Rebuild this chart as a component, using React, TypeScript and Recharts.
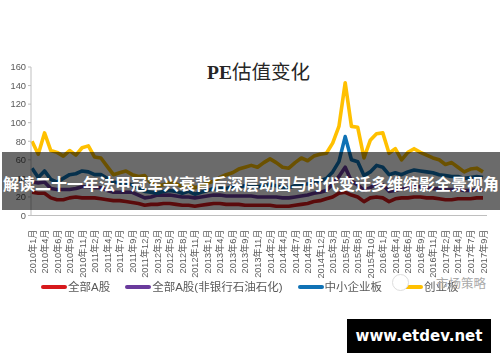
import { LineChart, Line, XAxis, YAxis, Legend } from "recharts";

const TICK_LABELS = [
  "2010年1月", "2010年4月", "2010年6月", "2010年9月", "2010年11月",
  "2011年2月", "2011年4月", "2011年7月", "2011年9月", "2011年12月",
  "2012年3月", "2012年5月", "2012年8月", "2012年11月",
  "2013年1月", "2013年4月", "2013年6月", "2013年9月", "2013年11月",
  "2014年2月", "2014年4月", "2014年7月", "2014年9月", "2014年12月",
  "2015年3月", "2015年5月", "2015年8月", "2015年10月",
  "2016年1月", "2016年4月", "2016年6月", "2016年9月", "2016年11月",
  "2017年2月", "2017年4月", "2017年7月", "2017年9月",
];

// two readings per labelled tick, the one in between has no label
const ALL_A = [
  25, 24, 24, 19, 17, 17, 19, 20, 19, 19, 19, 18, 17, 16, 16, 15, 14, 13, 11, 12, 12, 13, 13, 12, 11,
  11, 10, 11, 12, 13, 13, 12, 12, 12, 11, 11, 11, 11, 11, 10, 10, 10, 11, 12, 13, 15, 16, 18, 20, 24,
  25, 22, 20, 15, 19, 20, 19, 15, 18, 19, 19, 20, 20, 19, 19, 18, 17, 17, 18, 18, 18, 19, 19,
];
const ALL_A_EX = [
  36, 35, 36, 29, 28, 28, 28, 29, 31, 31, 30, 30, 27, 25, 25, 25, 25, 22, 19, 20, 22, 22, 22, 21, 20,
  20, 19, 20, 21, 22, 22, 21, 21, 21, 21, 21, 20, 20, 20, 20, 19, 19, 20, 21, 22, 24, 25, 27, 34, 42,
  52, 37, 33, 27, 30, 34, 33, 26, 27, 29, 30, 31, 31, 30, 29, 29, 28, 28, 28, 27, 27, 28, 27,
];
const SME = [
  51, 41, 48, 39, 36, 40, 44, 45, 48, 47, 44, 44, 40, 36, 35, 35, 33, 29, 26, 25, 24, 26, 27, 26, 24,
  26, 23, 25, 27, 29, 29, 29, 31, 31, 32, 31, 31, 32, 33, 32, 30, 30, 32, 34, 34, 36, 37, 40, 47, 58,
  85, 60, 58, 43, 47, 54, 52, 44, 46, 44, 47, 49, 48, 47, 46, 44, 43, 42, 42, 40, 41, 42, 41,
];
const CHINEXT = [
  80, 66, 89, 70, 68, 64, 70, 65, 73, 75, 63, 62, 53, 44, 46, 48, 44, 42, 43, 35, 32, 33, 36, 34, 31,
  33, 30, 32, 35, 37, 41, 44, 46, 50, 52, 54, 52, 57, 61, 57, 52, 51, 57, 62, 59, 64, 66, 67, 78, 96,
  143, 96, 95, 62, 81, 88, 89, 67, 72, 60, 68, 72, 68, 65, 62, 60, 55, 57, 52, 47, 50, 51, 47,
];
const Y_TICKS = [0, 20, 40, 60, 80, 100, 120, 140, 160];

const SERIES = [
  { key: "allA", name: "全部A股", color: "#d7191c", values: ALL_A },
  { key: "allAEx", name: "全部A股(非银行石油石化)", color: "#6a3a9c", values: ALL_A_EX },
  { key: "sme", name: "中小企业板", color: "#0f72b5", values: SME },
  { key: "chinext", name: "创业板", color: "#ffc000", values: CHINEXT },
];

const data = ALL_A.map((_, i) => {
  const row: Record<string, string | number> = { label: i % 2 === 0 ? TICK_LABELS[i / 2] : "" };
  SERIES.forEach((s) => {
    row[s.key] = s.values[i];
  });
  return row;
});

const FONT = '"Liberation Sans", "Noto Sans CJK SC", sans-serif';

function MonthTick({ x, y, payload }: any) {
  if (!payload.value) return null;
  return (
    <text
      x={0}
      y={0}
      transform={`translate(${x + 3.5},${y + 6}) rotate(-90)`}
      textAnchor="end"
      fontSize={9.2}
      fontFamily={FONT}
      fill="#595959"
    >
      {payload.value}
    </text>
  );
}

function LegendRow({ payload }: any) {
  return (
    <div style={{ display: "flex", paddingLeft: 41, fontFamily: FONT, fontSize: 11.5, color: "#595959", lineHeight: "18px" }}>
      {(payload ?? []).map((p: any) => (
        <div key={p.value} style={{ display: "flex", alignItems: "center", marginRight: 15 }}>
          <span style={{ width: 26, height: 3.5, borderRadius: 2, background: p.color, marginRight: 1 }} />
          {p.value}
        </div>
      ))}
    </div>
  );
}

export default function App() {
  return (
    <div style={{ position: "absolute", left: 0, top: 0, width: 500, height: 362, background: "#fff", overflow: "hidden" }}>
      <div style={{ filter: "blur(0.45px)" }}>
        <LineChart width={500} height={362} data={data} margin={{ top: 67, right: 13, left: 0, bottom: 0 }}>
          <XAxis
            dataKey="label"
            interval={0}
            height={62.5}
            tick={<MonthTick />}
            tickLine={false}
            axisLine={{ stroke: "#bfbfbf" }}
            padding={{ left: 1, right: 4 }}
          />
          <YAxis
            width={31}
            domain={[0, 160]}
            ticks={Y_TICKS}
            interval={0}
            tick={{ fill: "#595959", fontSize: 9.3, fontFamily: FONT }}
            tickSize={3}
            tickLine={{ stroke: "#bfbfbf" }}
            axisLine={{ stroke: "#bfbfbf" }}
          />
          <Legend verticalAlign="bottom" height={84} itemSorter={null} content={<LegendRow />} />
          {SERIES.map((s) => (
            <Line
              key={s.key}
              dataKey={s.key}
              name={s.name}
              stroke={s.color}
              strokeWidth={3.6}
              strokeLinejoin="round"
              dot={false}
              isAnimationActive={false}
            />
          ))}
        </LineChart>
      </div>

      <div style={{ position: "absolute", left: 207, top: 56, fontFamily: '"Liberation Serif", "Noto Sans CJK SC", serif', fontSize: 19.5, color: "#262626", whiteSpace: "nowrap" }}>
        <b>PE</b>估值变化
      </div>

      {/* watermark over the legend */}
      <div style={{ position: "absolute", left: 392, top: 274, width: 17, height: 17, borderRadius: "50%", background: "#fff", border: "1px solid #ddd", boxSizing: "border-box" }} />
      <div style={{ position: "absolute", left: 436, top: 273, fontFamily: FONT, fontSize: 12.5, color: "#aaa", whiteSpace: "nowrap" }}>市场策略</div>

      <div style={{ position: "absolute", left: 2, top: 152, width: 498, height: 58, background: "rgba(0,0,0,0.58)" }} />
      <div style={{ position: "absolute", left: 2, top: 152, width: 498, height: 58, lineHeight: "66px", textAlign: "center", fontFamily: FONT, fontWeight: 700, fontSize: 16, color: "#fff", whiteSpace: "nowrap" }}>
        解读二十一年法甲冠军兴衰背后深层动因与时代变迁多维缩影全景视角
      </div>

      <div style={{ position: "absolute", left: 347, top: 319, width: 144, height: 34, background: "#000", color: "#fff", lineHeight: "34px", textAlign: "center", fontFamily: '"DejaVu Sans", sans-serif', fontWeight: 700, fontSize: 15 }}>
        www.etdev.net
      </div>
    </div>
  );
}
